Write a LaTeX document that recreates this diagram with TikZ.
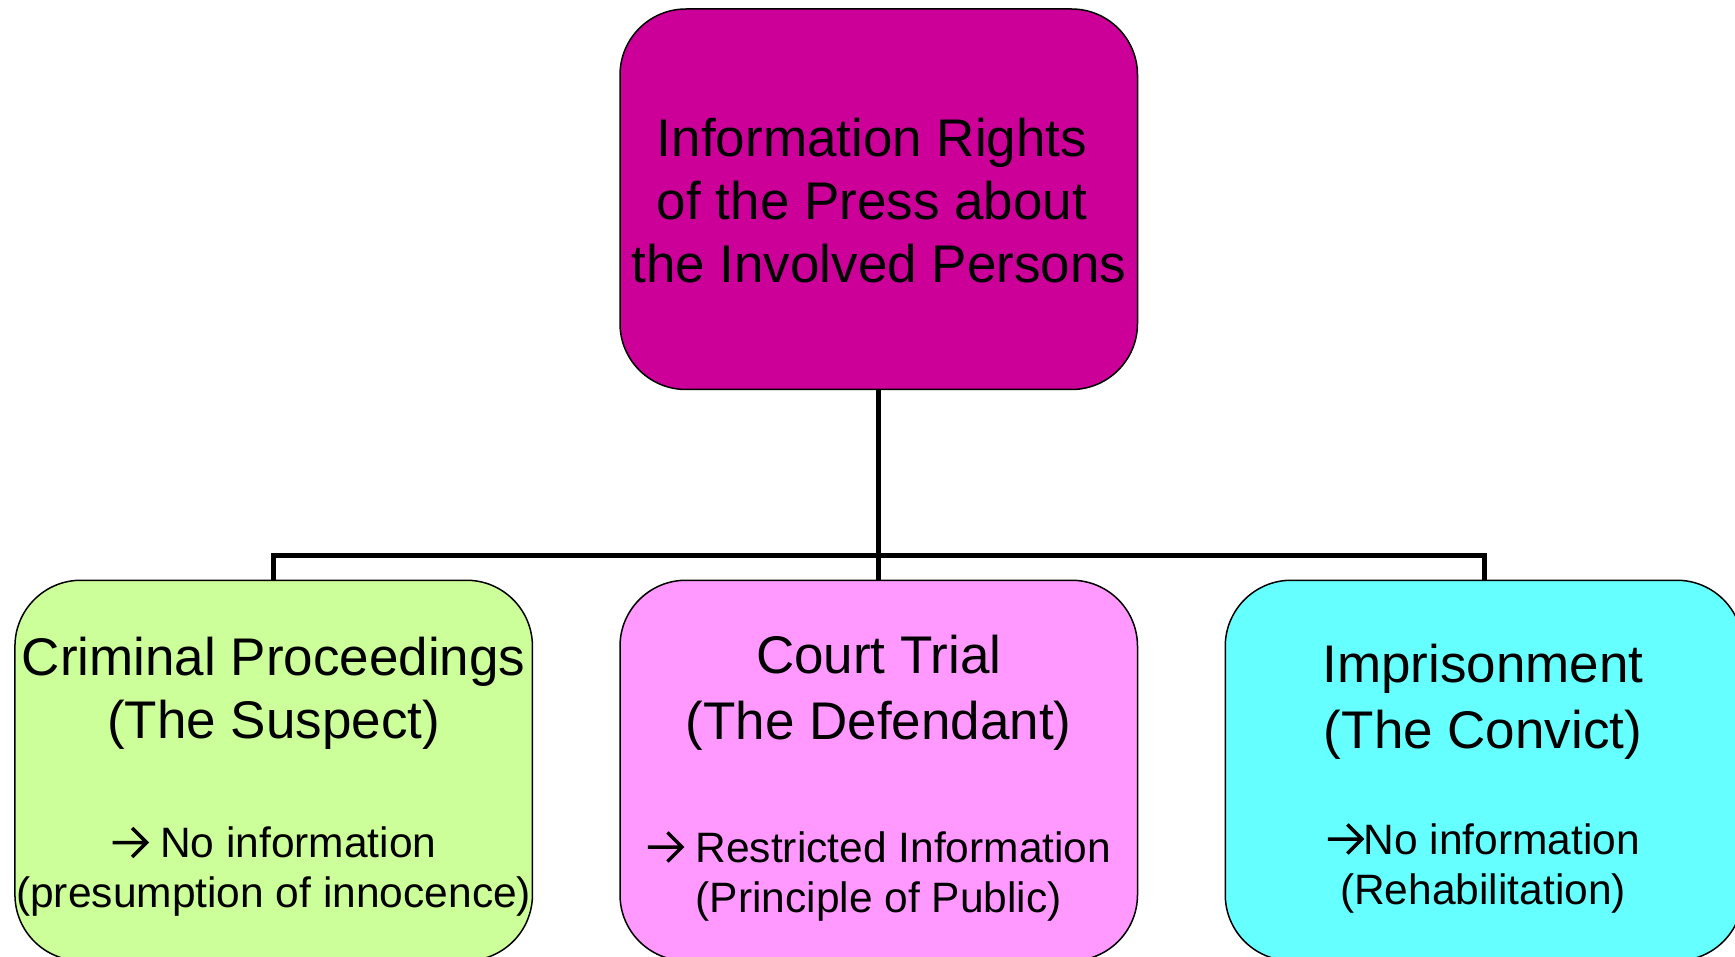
\documentclass[tikz,border=0pt]{standalone}
\usepackage{fontspec}
\setmainfont{Liberation Sans}
\newcommand{\rarr}{\tikz[baseline=0pt,x=1pt,y=1pt]{\draw[line width=3.5pt,line join=miter] (0,15) -- (33,15) (19.5,29.5) -- (34,15) -- (19.5,0.5);}}
\definecolor{topc}{RGB}{204,0,153}
\definecolor{leftc}{RGB}{204,255,153}
\definecolor{midc}{RGB}{255,153,255}
\definecolor{rightc}{RGB}{102,255,255}
\begin{document}
\begin{tikzpicture}[x=1pt,y=-1pt,
  box/.style={draw=black,line width=1.5pt,rounded corners=66pt,inner sep=0pt,outer sep=0pt,
    minimum width=517.5pt,minimum height=380.5pt},
  big/.style={anchor=base,inner sep=0pt,font=\fontsize{53}{63}\selectfont},
  small/.style={anchor=base,inner sep=0pt,font=\fontsize{42.5}{51}\selectfont},
  conn/.style={draw=black,line width=5pt}]
\useasboundingbox (0,0) rectangle (1735,957);
\fill[white] (0,0) rectangle (1735,957);
\node[box,fill=topc] (top) at (878.75,199.25) {};
\node[box,fill=leftc] (left) at (273.7,770.5) {};
\node[box,fill=midc] (mid) at (878.75,770.5) {};
\node[box,fill=rightc] (right) at (1484,770.5) {};
\coordinate (bus) at (878.75,555.5);
\draw[conn] (top.south) -- (bus);
\draw[conn] (left.north) |- (bus) -| (right.north);
\draw[conn] (bus) -- (mid.north);
% top text
\node[big] (t1) at (872,157) {Information Rights};
\node[big] (t2) at (872,220) {of the Press about};
\node[big] (t3) at (878.75,283) {the Involved Persons};
% left
\node[big] (l1) at (273.7,675) {Criminal Proceedings};
\node[big] (l2) at (273.7,738) {(The Suspect)};
\node[small] (l3) at (273.7,857.5) {\rarr{} No information};
\node[small] (l4) at (273.7,907) {(presumption of innocence)};
% middle
\node[big] (m1) at (878.75,673) {Court Trial};
\node[big] (m2) at (878.75,739) {(The Defendant)};
\node[small] (m3) at (878.75,862) {\rarr{} Restricted Information};
\node[small] (m4) at (878.75,912) {(Principle of Public)};
% right
\node[big] (r1) at (1483,682) {Imprisonment};
\node[big] (r2) at (1483,748) {(The Convict)};
\node[small] (r3) at (1483,854) {\rarr{}No information};
\node[small] (r4) at (1483,904) {(Rehabilitation)};
\end{tikzpicture}
\end{document}
